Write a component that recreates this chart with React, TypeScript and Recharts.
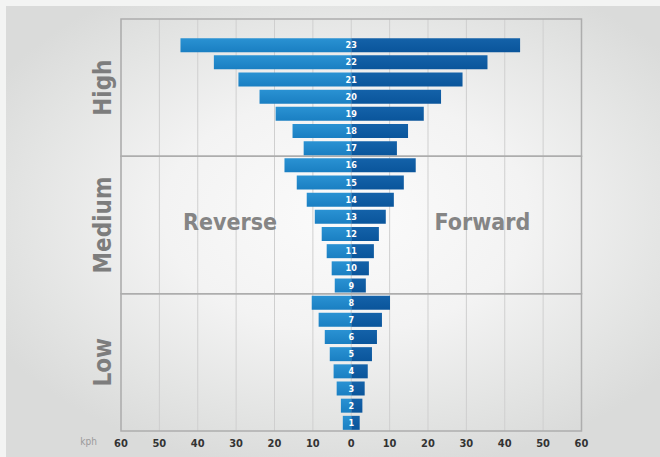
import React from 'react';
import { BarChart, Bar, XAxis, YAxis, CartesianGrid, ReferenceArea, LabelList } from 'recharts';

const gears = ['23', '22', '21', '20', '19', '18', '17', '16', '15', '14', '13', '12', '11', '10', '9', '8', '7', '6', '5', '4', '3', '2', '1'];
const reverseKph = [44.5, 35.8, 29.4, 23.9, 19.7, 15.3, 12.4, 17.4, 14.2, 11.6, 9.5, 7.7, 6.4, 5.1, 4.3, 10.3, 8.5, 6.9, 5.6, 4.6, 3.8, 2.7, 2.2];
const forwardKph = [44.0, 35.5, 29.0, 23.4, 18.9, 14.8, 11.9, 16.8, 13.7, 11.1, 9.0, 7.2, 5.9, 4.6, 3.8, 10.1, 8.0, 6.7, 5.4, 4.3, 3.5, 2.9, 2.2];
const xTicks = [-60, -50, -40, -30, -20, -10, 0, 10, 20, 30, 40, 50, 60];
const sectionNames = ['High', 'Medium', 'Low'];
const directionNames = ['Reverse', 'Forward'];
const PAD = 'pad';

const data = [
  { gear: PAD, reverse: null, forward: null },
  ...gears.map((g, i) => ({ gear: g, reverse: -reverseKph[i], forward: forwardKph[i] })),
];

const FONT = '"DejaVu Sans Condensed", "Liberation Sans Narrow", "DejaVu Sans", sans-serif';
const FRAME = '#adadad';

const sectionLabel = (text: string) => (props: any) => {
  const vb = props.viewBox || {};
  const cx = vb.x - 18;
  const cy = vb.y + vb.height / 2;
  return (
    <text
      x={cx}
      y={cy}
      transform={`rotate(-90 ${cx} ${cy})`}
      textAnchor="middle"
      dominantBaseline="central"
      fontFamily={FONT}
      fontWeight="bold"
      fontSize={24}
      fill="#7d7d7d"
    >
      {text}
    </text>
  );
};

const directionLabel = (text: string, dx: number) => (props: any) => {
  const vb = props.viewBox || {};
  const cx = vb.x + vb.width / 2 + dx;
  const cy = vb.y + vb.height / 2 - 3;
  return (
    <text
      x={cx}
      y={cy}
      textAnchor="middle"
      dominantBaseline="central"
      fontFamily={FONT}
      fontWeight="bold"
      fontSize={23}
      fill="#858585"
    >
      {text}
    </text>
  );
};

const gearLabel = (props: any) => {
  const { x, y, height, value } = props;
  if (value === PAD) return null;
  return (
    <text
      x={x}
      y={y + height / 2}
      textAnchor="middle"
      dominantBaseline="central"
      fontFamily={FONT}
      fontWeight="bold"
      fontSize={9}
      fill="#ffffff"
    >
      {value}
    </text>
  );
};

export default function App() {
  return (
    <div
      style={{
        position: 'absolute',
        left: 0,
        top: 0,
        width: 660,
        height: 457,
        background: '#f3f4f3',
        overflow: 'hidden',
      }}
    >
      <div
        style={{
          position: 'absolute',
          left: 6,
          top: 6,
          width: 654,
          height: 451,
          background:
            'radial-gradient(ellipse 62% 58% at 52% 46%, #fbfbfb 0%, #f3f3f3 45%, #e3e4e3 80%, #dadbda 100%)',
        }}
      />
      <div style={{ position: 'absolute', left: 0, top: 0 }}>
        <BarChart
          width={660}
          height={457}
          data={data}
          layout="vertical"
          stackOffset="sign"
          barSize={14}
          margin={{ top: 19, right: 78.5, bottom: 6, left: 121 }}
        >
          <defs>
            <linearGradient id="revGrad" x1="0" y1="0" x2="0" y2="1">
              <stop offset="0%" stopColor="#2a92d3" />
              <stop offset="100%" stopColor="#1a7fc2" />
            </linearGradient>
            <linearGradient id="fwdGrad" x1="0" y1="0" x2="0" y2="1">
              <stop offset="0%" stopColor="#1462a9" />
              <stop offset="100%" stopColor="#0a559b" />
            </linearGradient>
          </defs>
          <CartesianGrid horizontal={false} stroke="#cfcfcf" strokeWidth={1} />
          <XAxis
            type="number"
            domain={[-60, 60]}
            ticks={xTicks}
            tickFormatter={(v: number) => String(Math.abs(v))}
            axisLine={false}
            tickLine={false}
            height={20}
            tick={{ fontFamily: FONT, fontWeight: 'bold', fontSize: 11, fill: '#333333' }}
            label={{ value: 'kph', position: 'left', offset: 24, fill: '#9a9a9a', fontSize: 10, fontFamily: FONT }}
          />
          <YAxis type="category" dataKey="gear" hide />
          <ReferenceArea
            x1={-60}
            x2={60}
            y1={PAD}
            y2="17"
            fill="none"
            stroke={FRAME}
            strokeWidth={1.5}
            ifOverflow="visible"
            label={sectionLabel(sectionNames[0])}
          />
          <ReferenceArea
            x1={-60}
            x2={60}
            y1="16"
            y2="9"
            fill="none"
            stroke={FRAME}
            strokeWidth={1.5}
            ifOverflow="visible"
            label={sectionLabel(sectionNames[1])}
          />
          <ReferenceArea
            x1={-60}
            x2={60}
            y1="8"
            y2="1"
            fill="none"
            stroke={FRAME}
            strokeWidth={1.5}
            ifOverflow="visible"
            label={sectionLabel(sectionNames[2])}
          />
          <ReferenceArea
            x1={-60}
            x2={0}
            y1="16"
            y2="9"
            fill="none"
            stroke="none"
            ifOverflow="visible"
            label={directionLabel(directionNames[0], -6)}
          />
          <ReferenceArea
            x1={0}
            x2={60}
            y1="16"
            y2="9"
            fill="none"
            stroke="none"
            ifOverflow="visible"
            label={directionLabel(directionNames[1], 16)}
          />
          <Bar dataKey="reverse" stackId="g" fill="url(#revGrad)" isAnimationActive={false} />
          <Bar dataKey="forward" stackId="g" fill="url(#fwdGrad)" isAnimationActive={false}>
            <LabelList dataKey="gear" content={gearLabel} />
          </Bar>
        </BarChart>
      </div>
    </div>
  );
}
